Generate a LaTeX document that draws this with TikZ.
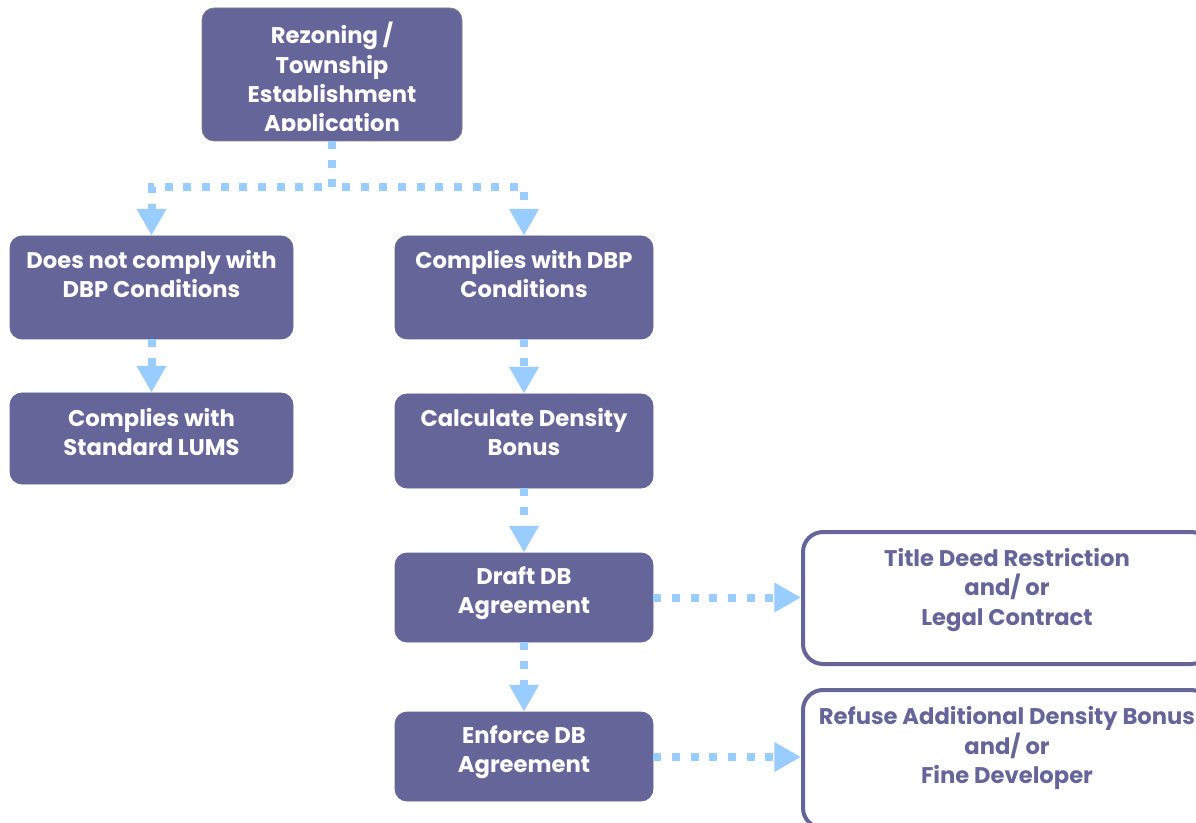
\documentclass[tikz,border=0pt]{standalone}
\usepackage{fontspec}
\setmainfont{Poppins}
\usetikzlibrary{arrows.meta,calc}
\definecolor{boxfill}{RGB}{101,101,154}
\definecolor{topline}{RGB}{128,128,128}
\definecolor{flowblue}{RGB}{153,204,255}
\tikzset{
  stage/.style={draw=boxfill, fill=boxfill, rounded corners=9pt, line width=0.6pt, inner sep=0pt},
  stagetext/.style={text=white, align=center, inner sep=0pt,
    font=\bfseries\fontsize{17}{21.9}\selectfont},
  outcome/.style={draw=boxfill, fill=white, rounded corners=15pt, line width=3pt, inner sep=0pt},
  outcometext/.style={text=boxfill, align=center, inner sep=0pt,
    font=\bfseries\fontsize{17}{21.9}\selectfont},
  flow/.style={draw=flowblue, line width=6pt, dash pattern=on 6pt off 8pt,
    -{Triangle[width=21pt,length=20pt]}},
}
\begin{document}
\begin{tikzpicture}[x=0.75pt,y=-0.75pt]
\clip (0,0) rectangle (1196,823);
\fill[white] (0,0) rectangle (1196,823);

% application box, its last line cut off by the box's inner edge
\node[stage, draw=topline, minimum width=260*0.75pt, minimum height=133*0.75pt] (app) at (332,74.5) {};
\begin{scope}
  \clip (202,8) rectangle (462,131);
  \node[stagetext] (apptext) at (332,80) {Rezoning /\\Township\\Establishment\\Application};
\end{scope}

% left branch
\node[stage, minimum width=283*0.75pt, minimum height=103*0.75pt] (nocomply) at (151.5,287.5) {};
\node[stagetext] (nocomplytext) at (151.5,274) {Does not comply with\\DBP Conditions};
\node[stage, minimum width=283*0.75pt, minimum height=91*0.75pt] (lums) at (151.5,438.5) {};
\node[stagetext] (lumstext) at (151.5,432) {Complies with\\Standard LUMS};

% right branch
\node[stage, minimum width=258*0.75pt, minimum height=103*0.75pt] (comply) at (524,287.5) {};
\node[stagetext] (complytext) at (524,274) {Complies with DBP\\Conditions};
\node[stage, minimum width=258*0.75pt, minimum height=94*0.75pt] (calc) at (524,441) {};
\node[stagetext] (calctext) at (524,432) {Calculate Density\\Bonus};
\node[stage, minimum width=258*0.75pt, minimum height=89*0.75pt] (draft) at (524,597.5) {};
\node[stagetext] (drafttext) at (524,593.5) {Draft DB\\Agreement};
\node[stage, minimum width=258*0.75pt, minimum height=89*0.75pt] (enforce) at (524,756.5) {};
\node[stagetext] (enforcetext) at (524,752.5) {Enforce DB\\Agreement};

% outcomes
\node[outcome, minimum width=408*0.75pt, minimum height=132*0.75pt] (deed) at (1007,598) {};
\node[outcometext] (deedtext) at (1007,590) {Title Deed Restriction\\and/ or\\Legal Contract};
\node[outcome, minimum width=408*0.75pt, minimum height=138*0.75pt] (refuse) at (1007,759) {};
\node[outcometext] (refusetext) at (1007,748) {Refuse Additional Density Bonus\\and/ or\\Fine Developer};

% connectors
\draw[flow] (app.south) -- ++(0,46) -| (nocomply.north);
\draw[flow] (app.south) -- ++(0,46) -| (comply.north);
\draw[flow] (nocomply) -- (lums);
\draw[flow] (comply) -- (calc);
\draw[flow] (calc) -- (draft);
\draw[flow] (draft) -- (enforce);
\draw[flow] (draft.east) -- (draft.east -| deed.west);
\draw[flow] ($(enforce.east)+(0,0.5)$) -- ($(enforce.east -| refuse.west)+(0,0.5)$);
\end{tikzpicture}
\end{document}
